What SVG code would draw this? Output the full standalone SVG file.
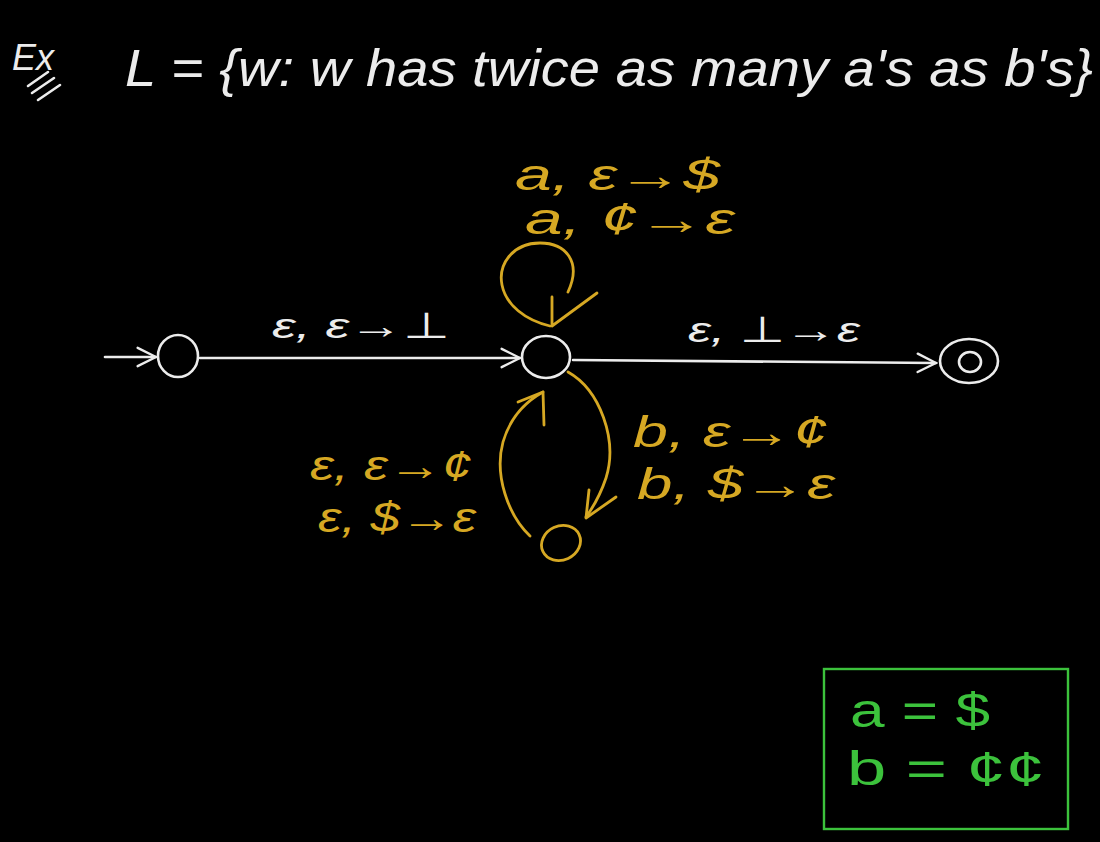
<svg xmlns="http://www.w3.org/2000/svg" width="1100" height="842" viewBox="0 0 1100 842">
<style>
.w{stroke:#ececec;fill:none;stroke-width:2.6;stroke-linecap:round;stroke-linejoin:round}
.y{stroke:#d6a823;fill:none;stroke-width:2.8;stroke-linecap:round;stroke-linejoin:round}
.g{stroke:#3cc23c;fill:none;stroke-width:2.4}
text{font-family:"Liberation Sans","DejaVu Sans",sans-serif;font-style:italic}
.tw{fill:#ececec}
.ty{fill:#d6a823}
.tg{fill:#3cc23c;font-style:normal}
</style>
<defs>
<marker id="aw" viewBox="0 0 12 12" refX="11" refY="6" markerWidth="22" markerHeight="22" markerUnits="userSpaceOnUse" orient="auto"><path d="M1,1 L11,6 L1,11" fill="none" stroke="#ececec" stroke-width="1.3" stroke-linecap="round"/></marker>
</defs>
<rect width="1100" height="842" fill="#000"/>
<g id="title">
<text class="tw" x="12" y="70" font-size="36">Ex</text>
<path class="w" d="M28,86 L48,72 M32,93 L54,78 M38,100 L60,85" stroke-width="2"/>
<text class="tw" x="125" y="86" font-size="52" textLength="968" lengthAdjust="spacingAndGlyphs">L = {w: w has twice as many a's as b's}</text>
</g>
<g id="connectors">
<path class="w" d="M105,357 L156,357" marker-end="url(#aw)"/>
<path class="w" d="M200,358 L520,358" marker-end="url(#aw)"/>
<path class="w" d="M573,360 L936,363" marker-end="url(#aw)"/>
<path class="y" d="M568,292 C582,262 566,243 540,243 C512,243 498,265 502,285 C506,305 525,320 550,326"/>
<path class="y" d="M597,293 L552,326 L552,297"/>
<path class="y" d="M568,372 C600,390 618,440 606,478 C600,496 594,506 586,517"/>
<path class="y" d="M616,497 L586,518 L589,490"/>
<path class="y" d="M530,536 C508,515 494,475 503,442 C510,418 525,402 543,392"/>
<path class="y" d="M518,402 L543,392 L544,425"/>
</g>
<g id="labels">
<text class="ty" x="515" y="190" font-size="44" textLength="205" lengthAdjust="spacingAndGlyphs">a, ε→$</text>
<text class="ty" x="525" y="234" font-size="44" textLength="210" lengthAdjust="spacingAndGlyphs">a, ¢→ε</text>
<text class="tw" x="272" y="338" font-size="36" textLength="178" lengthAdjust="spacingAndGlyphs">ε, ε→⊥</text>
<text class="tw" x="688" y="342" font-size="36" textLength="172" lengthAdjust="spacingAndGlyphs">ε, ⊥→ε</text>
<text class="ty" x="633" y="447" font-size="44" textLength="195" lengthAdjust="spacingAndGlyphs">b, ε→¢</text>
<text class="ty" x="637" y="499" font-size="44" textLength="198" lengthAdjust="spacingAndGlyphs">b, $→ε</text>
<text class="ty" x="310" y="480" font-size="42" textLength="162" lengthAdjust="spacingAndGlyphs">ε, ε→¢</text>
<text class="ty" x="318" y="532" font-size="42" textLength="158" lengthAdjust="spacingAndGlyphs">ε, $→ε</text>
</g>
<g id="q0"><ellipse class="w" cx="178" cy="356" rx="20" ry="21"/></g>
<g id="q1"><ellipse class="w" cx="546" cy="357" rx="24" ry="21"/></g>
<g id="q2"><ellipse class="y" cx="561" cy="543" rx="20" ry="17" transform="rotate(-25 561 543)"/></g>
<g id="q3"><ellipse class="w" cx="969" cy="361" rx="29" ry="22"/><ellipse class="w" cx="970" cy="362" rx="11" ry="10"/></g>
<g id="legend">
<rect class="g" x="824" y="669" width="244" height="160"/>
<text class="tg" x="850" y="727" font-size="48" textLength="140" lengthAdjust="spacingAndGlyphs">a = $</text>
<text class="tg" x="847" y="785" font-size="48" textLength="198" lengthAdjust="spacingAndGlyphs">b = ¢¢</text>
</g>
</svg>
